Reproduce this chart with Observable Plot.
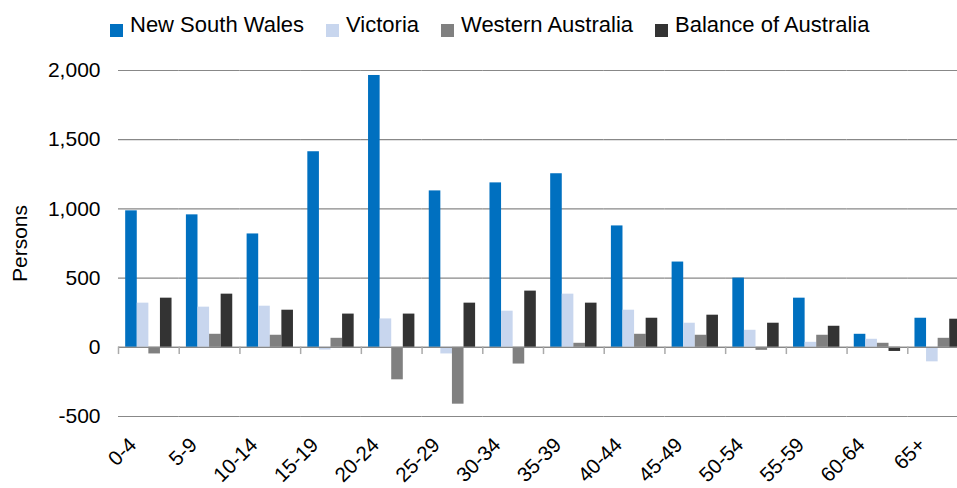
<!DOCTYPE html>
<html>
<head>
<meta charset="utf-8">
<script src="https://cdn.jsdelivr.net/npm/d3@7"></script>
<script src="https://cdn.jsdelivr.net/npm/@observablehq/plot@0.6"></script>
<style>
  html, body { margin: 0; padding: 0; background: #fff; overflow: hidden; }
  #wrap { width: 957px; height: 488px; overflow: hidden; font-family: "Liberation Sans", Arial, sans-serif; }
  #legend { height: 50px; display: flex; align-items: flex-start; padding-left: 110px; box-sizing: border-box; padding-top: 12px; }
  .item { display: flex; align-items: flex-end; margin-right: 22px; font-size: 22px; line-height: 25px; color: #000; }
  .sw { width: 13px; height: 13px; margin-right: 7px; margin-bottom: 0px; }
  #chart { width: 957px; overflow: hidden; }
  #chart svg { max-width: none !important; width: 968px; height: 438px; display: block; }
</style>
</head>
<body>
<div id="wrap">
  <div id="legend"></div>
  <div id="chart"></div>
</div>
<script>
const ages = ["0-4","5-9","10-14","15-19","20-24","25-29","30-34","35-39","40-44","45-49","50-54","55-59","60-64","65+"];
const seriesNames = ["New South Wales","Victoria","Western Australia","Balance of Australia"];
const colors = ["#0070C0","#C8D6EE","#808080","#333333"];
const nsw = [986, 957, 819, 1413, 1964, 1130, 1188, 1254, 877, 616, 500, 355, 94, 210];
const vic = [319, 290, 297, -20, 205, -48, 261, 384, 268, 174, 123, 36, 58, -105];
const wa  = [-48, 94, 87, 65, -235, -411, -121, 29, 94, 87, -22, 87, 29, 65];
const bal = [355, 384, 268, 240, 240, 319, 406, 319, 210, 232, 174, 152, -30, 203];
const yTicks = [-500, 0, 500, 1000, 1500, 2000];

const values = [nsw, vic, wa, bal];
const data = ages.flatMap((a, i) => seriesNames.map((s, j) => ({age: a, series: s, value: values[j][i]})));

// legend
const legend = document.getElementById("legend");
seriesNames.forEach((s, j) => {
  const it = document.createElement("div");
  it.className = "item";
  const sw = document.createElement("span");
  sw.className = "sw";
  sw.style.background = colors[j];
  const tx = document.createElement("span");
  tx.textContent = s;
  it.appendChild(sw); it.appendChild(tx);
  legend.appendChild(it);
});

const W = 968, H = 438, mL = 118, mR = 0, mT = 20, mB = 72;
const yPx = d3.scaleLinear().domain([-500, 2000]).range([H - mB, mT]);
const zeroPx = yPx(0);

const chart = Plot.plot({
  width: W, height: H,
  marginLeft: mL, marginRight: mR, marginTop: mT, marginBottom: mB,
  style: {fontFamily: "'Liberation Sans', Arial, sans-serif", fontSize: "21px", color: "#000", background: "#fff", maxWidth: "none"},
  fx: {domain: ages, padding: 0, round: false, label: null},
  x: {domain: seriesNames, paddingInner: 0, paddingOuter: 0.62, round: false, axis: null},
  y: {domain: [-500, 2000]},
  color: {domain: seriesNames, range: colors},
  marks: [
    Plot.ruleY(yTicks, {stroke: "#888", strokeWidth: 1.2}),
    Plot.barY(data, {fx: "age", x: "series", y: "value", fill: "series"}),
    Plot.ruleY([0], {stroke: "#888", strokeWidth: 1.2}),
    Plot.frame({anchor: "left", stroke: "#aaa", strokeWidth: 1.5, insetTop: zeroPx - mT, insetBottom: (H - mB) - (zeroPx + 6)}),
    Plot.axisY({ticks: yTicks, tickSize: 0, tickPadding: 18, tickFormat: d => d.toLocaleString("en-US"),
      label: "Persons", labelAnchor: "center", labelArrow: "none", labelOffset: 106, fontSize: 21}),
    Plot.axisFx({anchor: "bottom", tickRotate: -45, tickSize: 0, tickPadding: 25, dx: -16, label: null, fontSize: 20.5})
  ]
});
document.getElementById("chart").appendChild(chart);
</script>
</body>
</html>
